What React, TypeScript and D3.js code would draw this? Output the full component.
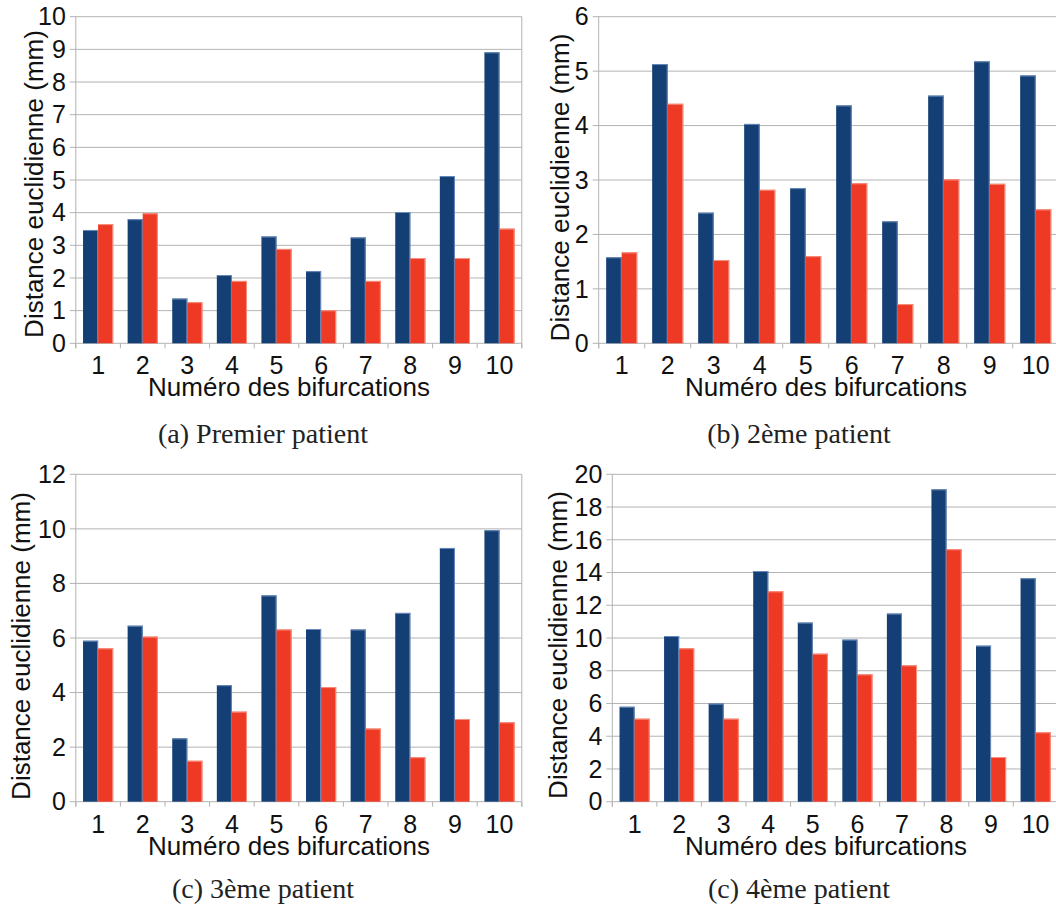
import React from "react";
import * as d3 from "d3";

const categories = ["1", "2", "3", "4", "5", "6", "7", "8", "9", "10"];
const seriesKeys = ["blue", "red"];

const p1Blue = [3.47, 3.8, 1.37, 2.09, 3.27, 2.21, 3.24, 4.02, 5.12, 8.91];
const p1Red = [3.65, 3.98, 1.26, 1.91, 2.89, 1.01, 1.91, 2.61, 2.61, 3.51];
const p2Blue = [1.58, 5.13, 2.4, 4.03, 2.85, 4.37, 2.24, 4.55, 5.18, 4.92];
const p2Red = [1.67, 4.4, 1.53, 2.82, 1.6, 2.94, 0.72, 3.01, 2.93, 2.46];
const p3Blue = [5.9, 6.45, 2.32, 4.27, 7.56, 6.33, 6.31, 6.92, 9.3, 9.95];
const p3Red = [5.62, 6.05, 1.5, 3.3, 6.31, 4.2, 2.68, 1.63, 3.03, 2.91];
const p4Blue = [5.8, 10.12, 5.99, 14.09, 10.94, 9.9, 11.49, 19.08, 9.53, 13.65];
const p4Red = [5.07, 9.37, 5.07, 12.85, 9.04, 7.78, 8.33, 15.42, 2.73, 4.24];

const p1Ticks = [0, 1, 2, 3, 4, 5, 6, 7, 8, 9, 10];
const p2Ticks = [0, 1, 2, 3, 4, 5, 6];
const p3Ticks = [0, 2, 4, 6, 8, 10, 12];
const p4Ticks = [0, 2, 4, 6, 8, 10, 12, 14, 16, 18, 20];

const captions = ["(a) Premier patient", "(b) 2ème patient", "(c) 3ème patient", "(c) 4ème patient"];
const yTitle = "Distance euclidienne (mm)";
const xTitle = "Numéro des bifurcations";

const BLUE = "#143f74";
const BLUE_EDGE = "#6a8cbb";
const RED = "#ee3a25";
const RED_EDGE = "#f7917f";
const GRID = "#b3b3b3";
const SANS = "'Liberation Sans', Arial, sans-serif";
const SERIF = "'Liberation Serif', 'Times New Roman', serif";

type PanelProps = {
  left: number;
  bandW: number;
  top: number;
  bottom: number;
  ticks: number[];
  blue: number[];
  red: number[];
  yTitleX: number;
  yTitleY: number;
  xTitleX: number;
  caption: string;
  captionX: number;
  captionY: number;
};

function Panel(p: PanelProps) {
  const right = p.left + p.bandW * categories.length;
  const yMax = p.ticks[p.ticks.length - 1];
  const y = d3.scaleLinear().domain([0, yMax]).range([p.bottom, p.top]);
  const x0 = d3.scaleBand<string>().domain(categories).range([p.left, right]).padding(0);
  const x1 = d3
    .scaleBand<string>()
    .domain(seriesKeys)
    .range([0, x0.bandwidth()])
    .paddingInner(0)
    .paddingOuter(0.48);
  const bounds = categories.map((c) => x0(c) as number).concat([right]);
  const data: Record<string, number[]> = { blue: p.blue, red: p.red };
  const fills: Record<string, string> = { blue: BLUE, red: RED };
  const edges: Record<string, string> = { blue: BLUE_EDGE, red: RED_EDGE };
  return (
    <g>
      {p.ticks.map((t) => (
        <g key={"g" + t}>
          <line x1={p.left - 6} x2={right} y1={y(t)} y2={y(t)} stroke={GRID} strokeWidth={1} />
          <text
            x={p.left - 10}
            y={y(t)}
            dy="0.35em"
            textAnchor="end"
            fontFamily={SANS}
            fontSize={25}
            fill="#111"
          >
            {t}
          </text>
        </g>
      ))}
      <line x1={p.left} x2={p.left} y1={p.top} y2={p.bottom + 5} stroke={GRID} strokeWidth={1} />
      <line x1={right} x2={right} y1={p.top} y2={p.bottom + 5} stroke={GRID} strokeWidth={1} />
      {bounds.map((bx, i) => (
        <line key={"xt" + i} x1={bx} x2={bx} y1={p.bottom} y2={p.bottom + 5} stroke={GRID} strokeWidth={1} />
      ))}
      {categories.map((c, i) =>
        seriesKeys.map((s) => {
          const bx = (x0(c) as number) + (x1(s) as number);
          const w = x1.bandwidth();
          const v = data[s][i];
          return (
            <g key={c + s}>
              <rect x={bx} y={y(v)} width={w} height={p.bottom - y(v)} fill={fills[s]} />
              <line x1={bx + w - 0.5} x2={bx + w - 0.5} y1={y(v)} y2={p.bottom} stroke={edges[s]} strokeWidth={1} />
              <line x1={bx} x2={bx + w} y1={y(v) + 0.5} y2={y(v) + 0.5} stroke={edges[s]} strokeWidth={1} />
            </g>
          );
        })
      )}
      {categories.map((c) => (
        <text
          key={"xl" + c}
          x={(x0(c) as number) + x0.bandwidth() / 2}
          y={p.bottom + 31}
          textAnchor="middle"
          fontFamily={SANS}
          fontSize={25}
          fill="#111"
        >
          {c}
        </text>
      ))}
      <text
        x={p.xTitleX}
        y={p.bottom + 53}
        textAnchor="middle"
        fontFamily={SANS}
        fontSize={26}
        fill="#111"
      >
        {xTitle}
      </text>
      <text
        transform={`translate(${p.yTitleX},${p.yTitleY}) rotate(-90)`}
        textAnchor="middle"
        fontFamily={SANS}
        fontSize={26}
        fill="#111"
      >
        {yTitle}
      </text>
      <text
        x={p.captionX}
        y={p.captionY}
        textAnchor="middle"
        fontFamily={SERIF}
        fontSize={28}
        fill="#222"
      >
        {p.caption}
      </text>
    </g>
  );
}

export default function App() {
  return (
    <svg
      width={1056}
      height={908}
      style={{ position: "absolute", left: 0, top: 0, background: "#fff" }}
    >
      <rect x={0} y={0} width={1056} height={908} fill="#fff" />
      <Panel
        left={75.8}
        bandW={44.6}
        top={16.7}
        bottom={343.3}
        ticks={p1Ticks}
        blue={p1Blue}
        red={p1Red}
        yTitleX={43}
        yTitleY={184}
        xTitleX={289}
        caption={captions[0]}
        captionX={263}
        captionY={443}
      />
      <Panel
        left={598.7}
        bandW={46}
        top={16.7}
        bottom={343.3}
        ticks={p2Ticks}
        blue={p2Blue}
        red={p2Red}
        yTitleX={568.5}
        yTitleY={187.5}
        xTitleX={826}
        caption={captions[1]}
        captionX={799}
        captionY={443}
      />
      <Panel
        left={75.8}
        bandW={44.6}
        top={474.3}
        bottom={801.7}
        ticks={p3Ticks}
        blue={p3Blue}
        red={p3Red}
        yTitleX={30}
        yTitleY={646}
        xTitleX={289}
        caption={captions[2]}
        captionX={263}
        captionY={898}
      />
      <Panel
        left={612.3}
        bandW={44.56}
        top={474.3}
        bottom={801.7}
        ticks={p4Ticks}
        blue={p4Blue}
        red={p4Red}
        yTitleX={566.5}
        yTitleY={645}
        xTitleX={826}
        caption={captions[3]}
        captionX={799}
        captionY={898}
      />
    </svg>
  );
}
